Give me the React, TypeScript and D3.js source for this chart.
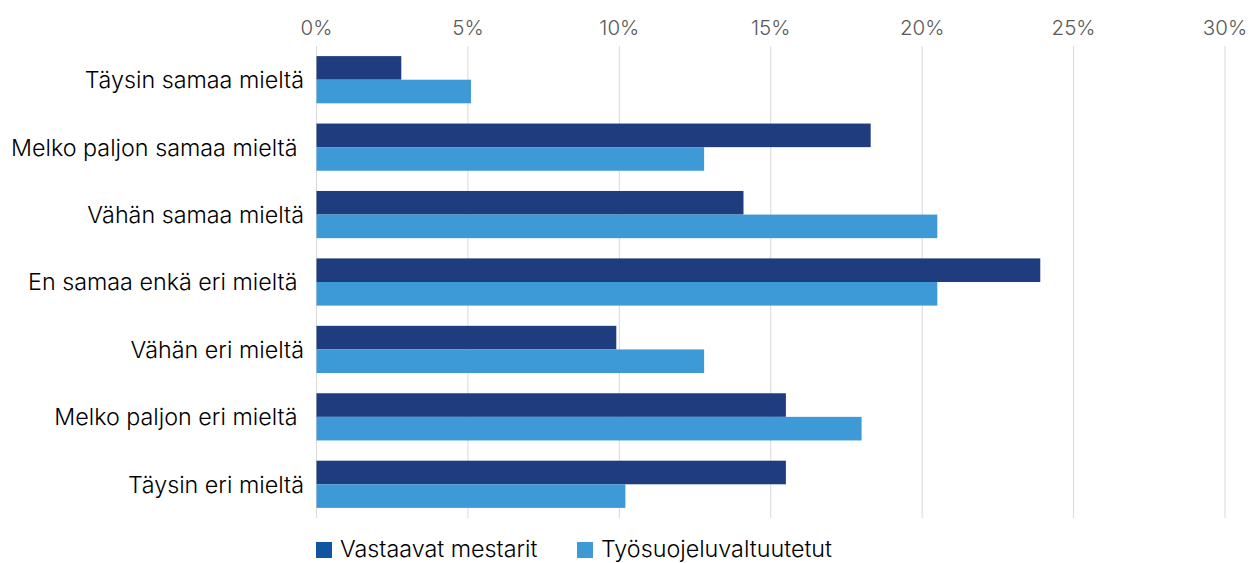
import React from "react";
import * as d3 from "d3";

const categories = [
  "Täysin samaa mieltä",
  "Melko paljon samaa mieltä ",
  "Vähän samaa mieltä",
  "En samaa enkä eri mieltä ",
  "Vähän eri mieltä",
  "Melko paljon eri mieltä ",
  "Täysin eri mieltä",
];
const seriesNames = ["Vastaavat mestarit", "Työsuojeluvaltuutetut"];
const mestarit = [2.8, 18.3, 14.1, 23.9, 9.9, 15.5, 15.5];
const valtuutetut = [5.1, 12.8, 20.5, 20.5, 12.8, 18.0, 10.2];
const xTicks = [0, 5, 10, 15, 20, 25, 30];

const barColors = ["#1f3c7e", "#3d9ad6"];
const legendColors = ["#0e56a0", "#3d9ad6"];

const W = 1252;
const H = 563;
const FONT = "Inter, 'Noto Sans', sans-serif";

export default function App() {
  const x = d3.scaleLinear().domain([0, 30]).range([316.5, 1225]);
  const y = d3.scaleBand<string>().domain(categories).range([46, 518]).paddingInner(0.3).paddingOuter(0.15);
  const sub = d3.scaleBand<string>().domain(seriesNames).range([0, y.bandwidth()]);
  const series = [mestarit, valtuutetut];

  return (
    <svg width={W} height={H} style={{ position: "absolute", left: 0, top: 0, background: "#fff" }} fontFamily={FONT} fontWeight={350}>
      {xTicks.map((t) => (
        <g key={t}>
          <line x1={x(t)} x2={x(t)} y1={46} y2={518} stroke="#d9d9d9" strokeWidth={1} />
          <text x={x(t)} y={35} textAnchor="middle" fontSize={20.5} fill="#595959">
            {t}%
          </text>
        </g>
      ))}
      {categories.map((c, i) => (
        <g key={c}>
          {series.map((vals, s) => (
            <rect
              key={s}
              x={x(0)}
              y={(y(c) as number) + (sub(seriesNames[s]) as number)}
              width={x(vals[i]) - x(0)}
              height={sub.bandwidth()}
              fill={barColors[s]}
            />
          ))}
          <text
            x={304}
            y={(y(c) as number) + y.bandwidth() / 2}
            dy="0.36em"
            textAnchor="end"
            fontSize={23.3}
            fill="#000"
            style={{ whiteSpace: "pre" }}
          >
            {c}
          </text>
        </g>
      ))}
      {seriesNames.map((n, s) => {
        const lx = s === 0 ? 316 : 577;
        return (
          <g key={n}>
            <rect x={lx} y={542} width={16} height={16} fill={legendColors[s]} />
            <text x={lx + 24} y={557} fontSize={23.3} fill="#000">
              {n}
            </text>
          </g>
        );
      })}
    </svg>
  );
}
